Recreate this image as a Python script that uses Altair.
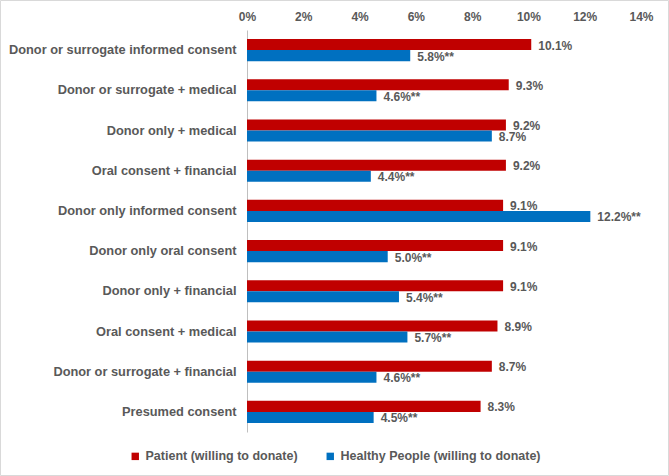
import altair as alt
import pandas as pd

categories = [
    "Donor or surrogate informed consent",
    "Donor or surrogate + medical",
    "Donor only + medical",
    "Oral consent + financial",
    "Donor only informed consent",
    "Donor only oral consent",
    "Donor only + financial",
    "Oral consent + medical",
    "Donor or surrogate + financial",
    "Presumed consent",
]
patient = [10.1, 9.3, 9.2, 9.2, 9.1, 9.1, 9.1, 8.9, 8.7, 8.3]
healthy = [5.8, 4.6, 8.7, 4.4, 12.2, 5.0, 5.4, 5.7, 4.6, 4.5]
healthy_sig = ["**", "**", "", "**", "**", "**", "**", "**", "**", "**"]
series = ["Patient (willing to donate)", "Healthy People (willing to donate)"]
colors = ["#C00000", "#0070C0"]
x_ticks = [0, 2, 4, 6, 8, 10, 12, 14]

rows = []
for i, c in enumerate(categories):
    rows.append({"cat": c, "series": series[0], "val": patient[i],
                 "label": f"{patient[i]:.1f}%"})
    rows.append({"cat": c, "series": series[1], "val": healthy[i],
                 "label": f"{healthy[i]:.1f}%{healthy_sig[i]}"})
df = pd.DataFrame(rows)

FONT = "Liberation Sans"
GRAY = "#595959"
W, H = 394, 402

y_enc = alt.Y("cat:N", sort=categories,
              scale=alt.Scale(paddingInner=0.45, paddingOuter=0.225),
              axis=alt.Axis(title=None, ticks=False, domain=True, domainColor="#bfbfbf",
                            labelPadding=11, labelFont=FONT, labelFontSize=12.8,
                            labelFontWeight="bold", labelColor=GRAY, labelLimit=300))
yoff = alt.YOffset("series:N", sort=series, scale=alt.Scale(domain=series))
x_enc = alt.X("val:Q", scale=alt.Scale(domain=[0, 14], nice=False),
              axis=alt.Axis(title=None, orient="top", values=x_ticks, ticks=False,
                            domain=False, grid=False, labelExpr="datum.value + '%'",
                            labelFlush=False, labelOverlap=False,
                            labelPadding=7, labelFont=FONT, labelFontSize=12,
                            labelFontWeight="bold", labelColor=GRAY))

bars = alt.Chart(df).mark_bar().encode(
    x=x_enc, y=y_enc, yOffset=yoff,
    color=alt.Color("series:N", sort=series,
                    scale=alt.Scale(domain=series, range=colors),
                    legend=alt.Legend(title=None, orient="none", direction="horizontal",
                                      legendX=-118, legendY=420,
                                      symbolType="square", symbolSize=55,
                                      symbolStrokeWidth=0, labelFont=FONT,
                                      labelFontSize=12.5, labelFontWeight="bold",
                                      labelColor=GRAY, columnPadding=26,
                                      labelOffset=4, labelLimit=400)),
)

labels = alt.Chart(df).mark_text(align="left", baseline="middle", dx=7, dy=1,
                                 font=FONT, fontSize=12, fontWeight="bold",
                                 color=GRAY).encode(
    x="val:Q", y=alt.Y("cat:N", sort=categories), yOffset=yoff, text="label:N")

frame = alt.Chart(pd.DataFrame({"a": [0]})).mark_rect(
    fill=None, stroke="#d9d9d9", strokeWidth=1).encode(
    x=alt.value(-246.5), x2=alt.value(W + 27.5),
    y=alt.value(-29.5), y2=alt.value(H + 43.5))

chart = alt.layer(bars, labels, frame).properties(
    width=W, height=H,
    autosize=alt.AutoSizeParams(type="none"),
    padding={"left": 247, "top": 30, "right": 28, "bottom": 44},
    background="white",
).configure_view(stroke=None)

chart.save("out.html", embed_options={"renderer": "svg", "actions": False})
